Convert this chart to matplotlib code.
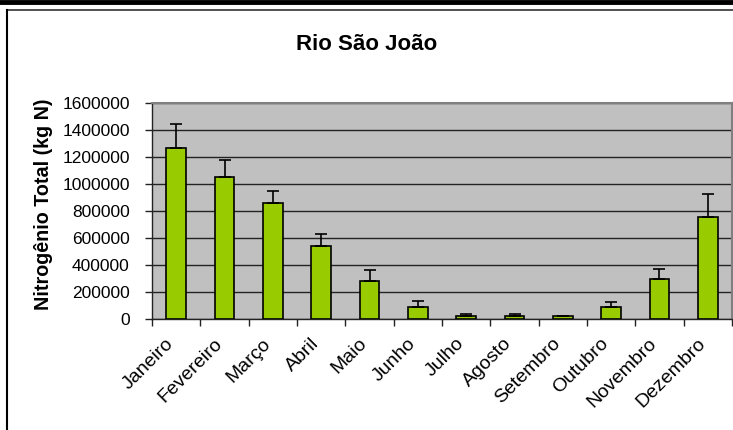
import matplotlib
matplotlib.use("Agg")
import matplotlib.pyplot as plt
from matplotlib.lines import Line2D
from matplotlib.transforms import ScaledTranslation
import numpy as np

plt.rcParams['font.family'] = ['Liberation Sans', 'DejaVu Sans']

meses = ["Janeiro", "Fevereiro", "Março", "Abril", "Maio", "Junho",
         "Julho", "Agosto", "Setembro", "Outubro", "Novembro", "Dezembro"]
nitrogenio = [1262000, 1047000, 855000, 541000, 281000, 89000,
              22000, 22000, 20000, 89000, 292000, 756000]
desvio = [182000, 126000, 91000, 89000, 80000, 44000,
          10000, 10000, 3000, 35000, 78000, 168000]
yticks = [0, 200000, 400000, 600000, 800000, 1000000, 1200000, 1400000, 1600000]

W, H = 733, 430
fig = plt.figure(figsize=(W / 100, H / 100), dpi=100)
fig.patch.set_facecolor("white")

# chart area frame
fig.add_artist(Line2D([0, 1], [1 - 2 / H, 1 - 2 / H], transform=fig.transFigure,
                      color="black", lw=3.5))
fig.add_artist(Line2D([6.5 / W, 1], [1 - 9.5 / H, 1 - 9.5 / H], transform=fig.transFigure,
                      color="#333333", lw=1.2))
fig.add_artist(Line2D([6.5 / W, 6.5 / W], [0, 1 - 9.5 / H], transform=fig.transFigure,
                      color="black", lw=1.5))

ax = fig.add_axes([152 / W, (H - 318.7) / H, (732 - 152) / W, (318.7 - 102.7) / H])
ax.set_facecolor("#C0C0C0")

x = np.arange(len(meses))
ax.bar(x, nitrogenio, width=0.41, color="#99CC00", edgecolor="black", linewidth=1.2, zorder=3)
ax.errorbar(x, nitrogenio, yerr=[np.zeros(len(desvio)), desvio], fmt="none",
            ecolor="black", elinewidth=1.2, capsize=4.3, capthick=1.2, zorder=4)

ax.set_xlim(-0.5, len(meses) - 0.5)
ax.set_ylim(0, 1600000)
ax.set_yticks(yticks)
ax.set_yticklabels([str(v) for v in yticks], fontsize=12.5)
ax.yaxis.grid(True, color="#222222", linewidth=1.0, zorder=1)
ax.set_axisbelow(True)

# category boundary ticks on the x axis
ax.set_xticks(np.arange(-0.5, len(meses) + 0.5, 1.0))
ax.set_xticklabels([])
ax.set_xticks(x, minor=True)
ax.set_xticklabels(meses, minor=True, rotation=45, ha="right", va="center",
                   rotation_mode="anchor", fontsize=14)
ax.tick_params(axis="x", which="minor", length=0, pad=16)
shift = ScaledTranslation(-5 / 100, 0, fig.dpi_scale_trans)
for lab in ax.get_xticklabels(minor=True):
    lab.set_transform(lab.get_transform() + shift)
ax.tick_params(axis="x", which="major", length=5, width=1, color="#222222", direction="out")
ax.tick_params(axis="y", length=5, width=1, color="#222222", direction="out", pad=11)

for s in ["top", "right"]:
    ax.spines[s].set_color("#808080")
    ax.spines[s].set_linewidth(1.5)
for s in ["left", "bottom"]:
    ax.spines[s].set_color("#222222")
    ax.spines[s].set_linewidth(1.0)

ax.set_ylabel("Nitrogênio Total (kg N)", fontsize=14.2, fontweight="bold")
ax.yaxis.set_label_coords(-0.17, 0.53)
fig.text(367 / W, 1 - 45 / H, "Rio São João", ha="center", va="center",
         fontsize=16, fontweight="bold")

fig.savefig("out.png", dpi=100)
